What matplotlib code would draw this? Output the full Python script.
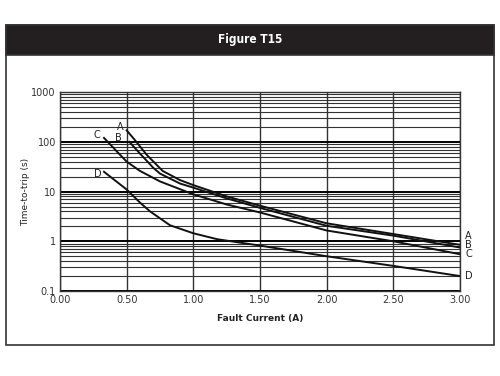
import matplotlib
matplotlib.use('Agg')
import matplotlib.pyplot as plt
from matplotlib.patches import Rectangle
from matplotlib.ticker import FixedLocator, LogLocator, NullFormatter

# 데이터 준비
a_x = [0.50, 0.56, 0.65, 0.77, 0.90, 1.00, 1.25, 1.50, 2.00, 2.50, 3.00]
a_y = [170, 110, 55, 26, 17, 13.5, 8.0, 5.2, 2.3, 1.4, 0.85]
b_x = [0.52, 0.60, 0.70, 0.75, 0.90, 1.00, 1.25, 1.50, 2.00, 2.50, 3.00]
b_y = [100, 58, 30, 23, 14.5, 12, 7.3, 4.7, 2.05, 1.3, 0.75]
c_x = [0.33, 0.45, 0.50, 0.60, 0.75, 1.00, 1.25, 1.50, 2.00, 2.50, 3.00]
c_y = [120, 55, 40, 26, 16, 8.8, 5.5, 3.8, 1.65, 1.0, 0.55]
d_x = [0.33, 0.50, 0.60, 0.675, 0.75, 0.825, 1.00, 1.18, 1.50, 2.00, 2.50, 3.00]
d_y = [25, 11, 6.0, 4.0, 2.9, 2.1, 1.45, 1.1, 0.82, 0.5, 0.32, 0.2]

names = ['A', 'B', 'C', 'D']
start_labels = [(0.45, 200), (0.435, 120), (0.28, 138), (0.28, 23)]
end_labels = [1.3, 0.83, 0.55, 0.2]

x_ticks = [0.0, 0.5, 1.0, 1.5, 2.0, 2.5, 3.0]
x_ticklabels = ['0.00', '0.50', '1.00', '1.50', '2.00', '2.50', '3.00']
y_ticks = [0.1, 1, 10, 100, 1000]
y_ticklabels = ['0.1', '1', '10', '100', '1000']

fig = plt.figure(figsize=(5, 3.76), dpi=100)

# 바깥 테두리와 제목 막대
fig.patches.append(Rectangle((0.012, 0.082), 0.976, 0.852, transform=fig.transFigure,
                             fill=False, edgecolor='#333333', linewidth=1.2))
fig.patches.append(Rectangle((0.012, 0.854), 0.976, 0.08, transform=fig.transFigure,
                             facecolor='#231f20', edgecolor='#333333', linewidth=1.2))
fig.text(0.5, 0.894, 'Figure T15', color='white', ha='center', va='center',
         fontsize=8.5, fontweight='bold', fontstretch='condensed',
         family=['Liberation Sans Narrow', 'DejaVu Sans'])

ax = fig.add_axes([0.12, 0.226, 0.80, 0.529])
ax.set_yscale('log')
ax.set_xlim(0, 3)
ax.set_ylim(0.1, 1000)

# 격자
ax.yaxis.set_minor_locator(LogLocator(base=10, subs=range(2, 10)))
ax.yaxis.set_minor_formatter(NullFormatter())
ax.grid(which='major', axis='y', color='black', linewidth=1.4)
ax.grid(which='minor', axis='y', color='#333333', linewidth=0.8)
ax.grid(which='major', axis='x', color='#333333', linewidth=1.0)

ax.xaxis.set_major_locator(FixedLocator(x_ticks))
ax.set_xticklabels(x_ticklabels)
ax.yaxis.set_major_locator(FixedLocator(y_ticks))
ax.set_yticklabels(y_ticklabels)
ax.tick_params(which='both', length=0, labelsize=7, colors='#333333', pad=3)
for s in ax.spines.values():
    s.set_color('#333333')
    s.set_linewidth(1.0)

# 곡선
for xs, ys in [(a_x, a_y), (b_x, b_y), (c_x, c_y), (d_x, d_y)]:
    ax.plot(xs, ys, color='#111111', linewidth=1.4)

for n, (lx, ly), ey in zip(names, start_labels, end_labels):
    ax.text(lx, ly, n, fontsize=7, color='#222222', ha='center', va='center')
    ax.text(3.04, ey, n, fontsize=7, color='#222222', ha='left', va='center', clip_on=False)

ax.set_xlabel('Fault Current (A)', fontsize=6.5, fontweight='bold', color='#222222', labelpad=6)
ax.set_ylabel('Time-to-trip (s)', fontsize=6.5, color='#222222', labelpad=1)

fig.savefig('out.png', dpi=100)
